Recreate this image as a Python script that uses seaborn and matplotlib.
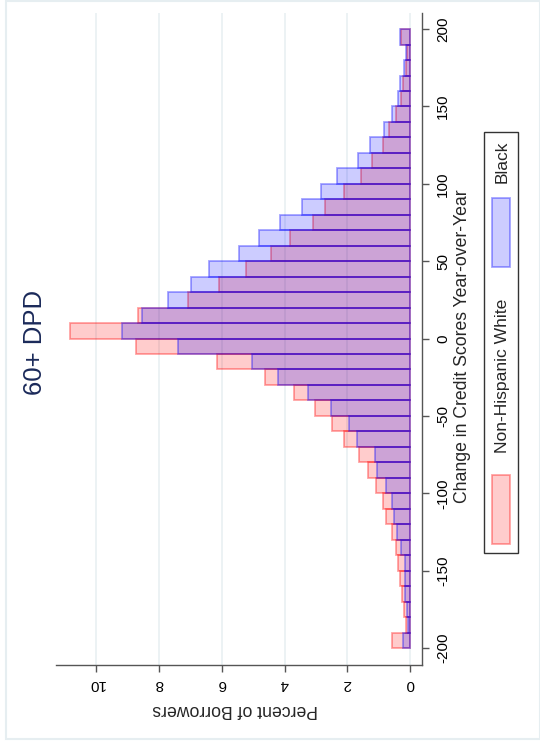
import numpy as np
import pandas as pd
import matplotlib
matplotlib.use("Agg")
import matplotlib.pyplot as plt
from matplotlib.patches import Rectangle
import seaborn as sns

# ---- data (percent of borrowers per 10-point bin, from -200 to 200) ----
bin_edges = list(range(-200, 201, 10))
bin_centers = [e + 5 for e in bin_edges[:-1]]
white_pct = [0.57, 0.15, 0.19, 0.28, 0.32, 0.38, 0.47, 0.60, 0.76, 0.87,
             1.10, 1.35, 1.64, 2.10, 2.48, 3.04, 3.70, 4.63, 6.14, 8.72,
             10.84, 8.65, 7.06, 6.10, 5.23, 4.42, 3.83, 3.09, 2.72, 2.11,
             1.57, 1.21, 0.87, 0.68, 0.47, 0.30, 0.25, 0.15, 0.11, 0.30]
black_pct = [0.25, 0.07, 0.11, 0.16, 0.16, 0.16, 0.29, 0.41, 0.53, 0.60,
             0.79, 1.06, 1.14, 1.71, 1.95, 2.51, 3.25, 4.20, 5.05, 7.38,
             9.17, 8.52, 7.71, 6.97, 6.41, 5.45, 4.80, 4.15, 3.46, 2.83,
             2.32, 1.68, 1.27, 0.83, 0.60, 0.39, 0.32, 0.19, 0.13, 0.32]
series_names = ["Non-Hispanic White", "Black"]
pct_ticks = [0, 2, 4, 6, 8, 10]
score_ticks = [-200, -150, -100, -50, 0, 50, 100, 150, 200]
title = "60+ DPD"
xlabel = "Percent of Borrowers"
ylabel = "Change in Credit Scores Year-over-Year"

df = pd.DataFrame({"center": bin_centers, "white": white_pct, "black": black_pct})

sns.set_style("white")
plt.rcParams["font.family"] = ["Liberation Sans", "DejaVu Sans"]

W, H = 540, 744
fig = plt.figure(figsize=(W / 100, H / 100), dpi=100)

def fx(px):
    return px / W

def fy(py):
    return 1 - py / H

ax = fig.add_axes([fx(56), fy(665), fx(422) - fx(56), fy(13) - fy(665)])

face_cols = [(1, 0, 0, 0.2), (0, 0, 1, 0.2)]
edge_cols = [(1, 0, 0, 0.36), (0, 0, 1, 0.36)]

for col, fc, ec in zip(["white", "black"], face_cols, edge_cols):
    n0 = len(ax.patches)
    sns.histplot(data=df, y="center", weights=col, bins=bin_edges, ax=ax,
                 color=fc[:3], stat="count")
    for p in ax.patches[n0:]:
        p.set_alpha(None)
        p.set_facecolor(fc)
        p.set_edgecolor(ec)
        p.set_linewidth(1.3)
        p.set_zorder(2)

ax.set_xlim(11.27, -0.37)
ax.set_ylim(-211, 210.4)

ax.set_xticks(pct_ticks)
ax.set_xticklabels([str(t) for t in pct_ticks], rotation=180, fontsize=11)
ax.set_yticks(score_ticks)
ax.set_yticklabels([str(t) for t in score_ticks], rotation=90, va="center", fontsize=11)
ax.yaxis.tick_right()
ax.yaxis.set_label_position("right")

ax.tick_params(axis="both", direction="out", length=5, width=1, color="#555555",
               labelcolor="black")
ax.tick_params(axis="x", bottom=True, pad=4)
ax.tick_params(axis="y", right=True, left=False, pad=5)

ax.grid(axis="x", color="#e9f0f2", linewidth=1.2, zorder=0)
ax.grid(axis="y", visible=False)
ax.set_axisbelow(True)

for s in ["left", "top"]:
    ax.spines[s].set_visible(False)
for s in ["right", "bottom"]:
    ax.spines[s].set_visible(True)
    ax.spines[s].set_color("#555555")
    ax.spines[s].set_linewidth(1.0)

ax.set_xlabel(xlabel, rotation=180, fontsize=12.7, labelpad=7)
ax.set_ylabel(ylabel, rotation=90, fontsize=12.7, labelpad=3)
ax.xaxis.label.set_x(0.489)
ax.yaxis.label.set_y(0.489)

# title (rotated)
fig.text(fx(35), fy(342), title, rotation=90, ha="center", va="center",
         fontsize=18.5, color="#1b2a5a")

# legend (rotated, drawn manually)
fig.patches.append(Rectangle((fx(483.5), fy(552.5)), fx(517.5) - fx(483.5), fy(131.5) - fy(552.5),
                             transform=fig.transFigure, facecolor="white",
                             edgecolor="#333333", linewidth=1.0))
fig.patches.append(Rectangle((fx(491.5), fy(544)), fx(510) - fx(491.5), fy(475) - fy(544),
                             transform=fig.transFigure, facecolor=face_cols[0],
                             edgecolor=edge_cols[0], linewidth=1.3))
fig.patches.append(Rectangle((fx(491.5), fy(267)), fx(510) - fx(491.5), fy(198) - fy(267),
                             transform=fig.transFigure, facecolor=face_cols[1],
                             edgecolor=edge_cols[1], linewidth=1.3))
fig.text(fx(502), fy(376), series_names[0], rotation=90, ha="center", va="center", fontsize=12.6)
fig.text(fx(502), fy(162), series_names[1], rotation=90, ha="center", va="center", fontsize=12.6)

# outer graph-region frame
fig.patches.append(Rectangle((fx(6), fy(739)), fx(539.5) - fx(6), fy(1) - fy(739),
                             transform=fig.transFigure, facecolor="none",
                             edgecolor="#e6eef1", linewidth=1.5))

fig.savefig("out.png", dpi=100)
